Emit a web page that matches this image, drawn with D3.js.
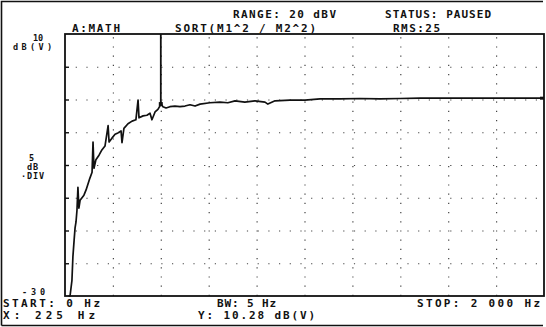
<!DOCTYPE html>
<html>
<head>
<meta charset="utf-8">
<script src="https://cdn.jsdelivr.net/npm/d3@7"></script>
<style>
  body { margin: 0; background: #fff; }
  text { font-family: "DejaVu Sans Mono", monospace; font-weight: bold; fill: #111; }
</style>
</head>
<body>
<div id="chart"></div>
<script>
// Sorted spectrum trace (Hz, dB)
const freqHz = [15, 21, 29, 33, 38, 42, 46, 50, 54, 58, 63, 71, 79, 88, 96, 104, 113, 117, 121,
  129, 142, 154, 167, 180, 184, 196, 209, 221, 234, 238, 246, 263, 280, 296, 305, 309, 326,
  342, 355, 363, 376, 388, 401, 409, 422, 438, 459, 480, 501, 522, 543, 564, 605, 647, 680,
  710, 751, 793, 835, 847, 877, 939, 1002, 1065, 1148, 1232, 1315, 1399, 1482, 1566, 1628, 2000];
const levelDb = [-30, -30, -27.6, -24.0, -21.5, -19.6, -18.7, -16.9, -13.4, -16.6, -15.4, -15.0,
  -14.6, -13.8, -12.9, -12.0, -11.1, -6.5, -10.5, -9.2, -8.5, -7.7, -7.1, -4.0, -6.5, -5.9,
  -5.3, -5.1, -4.8, -6.6, -4.4, -3.7, -3.3, -3.1, -0.1, -2.8, -2.5, -2.4, -2.1, -3.1, -1.9,
  -1.5, -0.7, -1.1, -1.3, -1.1, -1.0, -1.1, -1.0, -0.8, -1.0, -0.7, -0.5, -0.4, -0.5, -0.2,
  -0.4, -0.2, -0.4, -0.7, -0.2, -0.1, -0.1, 0.1, 0.1, 0.15, 0.1, 0.15, 0.2, 0.2, 0.2, 0.2];

// Marker cursor
const markerHz = 400;
const markerDb = -0.7;

// Axis ranges and grid divisions
const xDomain = [0, 2000];
const yDomain = [-30, 10];
const xGrid = [200, 400, 600, 800, 1000, 1200, 1400, 1600, 1800];
const yGrid = [-25, -20, -15, -10, -5, 0, 5];

// Screen texts
const headerTexts = [
  { t: "RANGE: 20 dBV", x: 233, y: 18, w: 103 },
  { t: "STATUS: PAUSED", x: 385, y: 18, w: 106 },
  { t: "A:MATH", x: 72, y: 32, w: 48 },
  { t: "SORT(M1^2 / M2^2)", x: 175, y: 32, w: 141 },
  { t: "RMS:25", x: 393, y: 32, w: 47 }
];
const footerTexts = [
  { t: "START: 0 Hz", x: 3, y: 307, w: 97 },
  { t: "X: 225 Hz", x: 3, y: 319, w: 92 },
  { t: "BW: 5 Hz", x: 217, y: 307, w: 59 },
  { t: "Y: 10.28 dB(V)", x: 198, y: 319, w: 117 },
  { t: "STOP: 2 000 Hz", x: 417, y: 307, w: 123 }
];
const sideTexts = [
  { t: "10", x: 33, y: 41, w: 10 },
  { t: "dB(V)", x: 13, y: 50, w: 39 },
  { t: "5", x: 29, y: 161, w: 5 },
  { t: "dB", x: 27, y: 170, w: 11 },
  { t: "\u00b7DIV", x: 21, y: 179, w: 23 },
  { t: "-30", x: 22, y: 295, w: 23 }
];

const W = 546, H = 327;
const plot = { left: 65, right: 544, top: 34, bottom: 296 };

const svg = d3.select("#chart").append("svg")
  .attr("width", W)
  .attr("height", H);

const x = d3.scaleLinear().domain(xDomain).range([plot.left, plot.right]);
const y = d3.scaleLinear().domain(yDomain).range([plot.bottom, plot.top]);

// outer frame of the screen
svg.append("path")
  .attr("d", `M1.5,${H - 1.5} L1.5,1.5 L${W - 3},1.5 M1.5,${H - 1.5} L${W - 3},${H - 1.5}`)
  .attr("fill", "none")
  .attr("stroke", "#111")
  .attr("stroke-width", 1.6);

// dotted grid, built from axes
const gy = svg.append("g")
  .attr("transform", `translate(${plot.left},0)`)
  .call(d3.axisLeft(y).tickValues(yGrid).tickSize(-(plot.right - plot.left)).tickFormat(""));
gy.select(".domain").remove();
gy.selectAll("line")
  .attr("stroke", "#444")
  .attr("stroke-width", 1.2)
  .attr("stroke-dasharray", "1.2,9.5");

const gx = svg.append("g")
  .attr("transform", `translate(0,${plot.bottom})`)
  .call(d3.axisBottom(x).tickValues(xGrid).tickSize(-(plot.bottom - plot.top)).tickFormat(""));
gx.select(".domain").remove();
gx.selectAll("line")
  .attr("stroke", "#444")
  .attr("stroke-width", 1.2)
  .attr("stroke-dasharray", "1.2,8");

// small inward ticks on the left edge
const gt = svg.append("g")
  .attr("transform", `translate(${plot.left},0)`)
  .call(d3.axisRight(y).tickValues(yGrid).tickSize(4).tickFormat(""));
gt.select(".domain").remove();
gt.selectAll("line").attr("stroke", "#111").attr("stroke-width", 1.4);

// plot border
svg.append("rect")
  .attr("x", plot.left)
  .attr("y", plot.top)
  .attr("width", plot.right - plot.left)
  .attr("height", plot.bottom - plot.top)
  .attr("fill", "none")
  .attr("stroke", "#111")
  .attr("stroke-width", 1.8);

// trace
const trace = freqHz.map((f, i) => [f, levelDb[i]]);
svg.append("path")
  .datum(trace)
  .attr("fill", "none")
  .attr("stroke", "#111")
  .attr("stroke-width", 1.7)
  .attr("stroke-linejoin", "round")
  .attr("d", d3.line().x(d => x(d[0])).y(d => y(d[1])));

// marker line from the top down to the trace
svg.append("line")
  .attr("x1", x(markerHz)).attr("x2", x(markerHz))
  .attr("y1", y(yDomain[1])).attr("y2", y(markerDb))
  .attr("stroke", "#111")
  .attr("stroke-width", 1.8);

svg.append("rect")
  .attr("x", x(markerHz) - 2).attr("y", y(markerDb) - 2)
  .attr("width", 4).attr("height", 4)
  .attr("fill", "#111");

svg.append("rect")
  .attr("x", x(xDomain[1]) - 4).attr("y", y(levelDb[levelDb.length - 1]) - 1.5)
  .attr("width", 4).attr("height", 3)
  .attr("fill", "#111");

// texts
function addTexts(list, size) {
  svg.append("g").selectAll("text")
    .data(list)
    .enter()
    .append("text")
    .attr("x", d => d.x)
    .attr("y", d => d.y)
    .attr("textLength", d => d.w)
    .attr("lengthAdjust", "spacing")
    .style("font-size", size + "px")
    .text(d => d.t);
}
addTexts(headerTexts, 11);
addTexts(footerTexts, 11);
addTexts(sideTexts, 8.5);
</script>
</body>
</html>
